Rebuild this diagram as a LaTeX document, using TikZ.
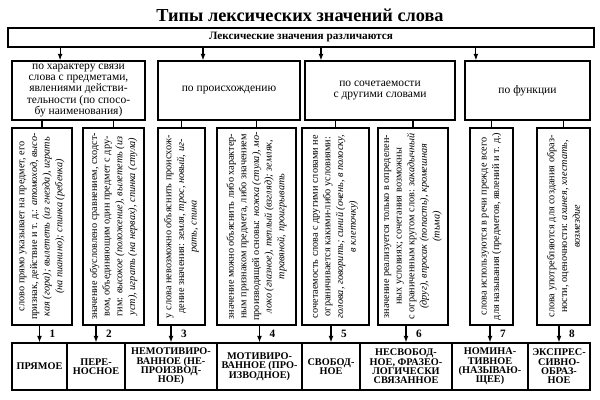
\documentclass[tikz,border=0pt]{standalone}
\usepackage{fontspec}
\setmainfont{Liberation Serif}
\usetikzlibrary{arrows.meta}

\begin{document}
\begin{tikzpicture}[
  every node/.style={font=\fontsize{7.5}{9}\selectfont},
  arrow/.style={-{Latex[length=1.6mm,width=1.2mm]}, line width=0.8pt},
  link/.style={line width=0.8pt},
  catbox/.style={draw, line width=0.9pt, minimum height=1.475cm, align=center,
    inner sep=1pt, font=\fontsize{8.2}{7.9}\selectfont},
  textbox/.style={draw, line width=0.9pt, rotate=90, minimum width=4.925cm,
    align=center, inner sep=1pt, font=\fontsize{7.3}{9}\selectfont},
  kindbox/.style={draw, line width=0.9pt, minimum height=1.175cm, align=center,
    inner sep=1pt, font=\fontsize{7.3}{6.7}\selectfont\bfseries},
  num/.style={font=\fontsize{8}{9}\selectfont\bfseries}
]
  \useasboundingbox (0,0) rectangle (15,10);

  \node[font=\fontsize{13}{15}\selectfont\bfseries] (title) at (7.5,9.625)
        {Типы лексических значений слова};
  \node[draw, line width=0.9pt, minimum width=14.65cm, minimum height=0.475cm,
        inner sep=1pt, font=\fontsize{8}{9}\selectfont\bfseries]
        (lex) at (7.525,9.0625) {Лексические значения различаются};

  \node[catbox, minimum width=3.325cm] (form)   at (1.9625,7.7375)
        {по характеру связи\\слова с предметами,\\явлениями действи-\\тельности (по спосо-\\бу наименования)};
  \node[catbox, minimum width=3.55cm]  (origin) at (5.725,7.7375) {по происхождению};
  \node[catbox, minimum width=3.75cm]  (combo)  at (9.5,7.7375) {по сочетаемости\\с другими словами};
  \node[catbox, minimum width=3.125cm] (func)   at (13.1875,7.7375) {по функции};

  \coordinate (tA) at ([xshift=-4.6mm]form.north);
  \coordinate (tB) at ([xshift=-6.5mm]origin.north);
  \coordinate (tC) at ([xshift=-14.75mm]combo.north);
  \coordinate (tD) at ([xshift=-12.9mm]func.north);
  \draw[arrow] (lex.south -| tA) -- (tA);
  \draw[arrow] (lex.south -| tB) -- (tB);
  \draw[arrow] (lex.south -| tC) -- (tC);
  \draw[arrow] (lex.south -| tD) -- (tD);

  \node[textbox, minimum height=1.5cm] (d1) at (1.05,4.3375)
        {слово прямо указывает на предмет, его\\признак, действие и т. д.: \textit{атомоход, высо-}\\\textit{кая (гора); вылететь (из гнезда), играть}\\\textit{(на пианино); спинка (ребенка)}};
  \node[textbox, minimum height=1.525cm] (d2) at (2.8375,4.3375)
        {значение обусловлено сравнением, сходст-\\вом, объединяющим один предмет с дру-\\гим: \textit{высокое (положение), вылететь (из}\\\textit{уст), играть (на нервах), спинка (стула)}};
  \node[textbox, minimum height=1.175cm] (d3) at (4.5375,4.3375)
        {у слова невозможно объяснить происхож-\\дение значения: \textit{земля, трос, новый, иг-}\\\textit{рать, спина}};
  \node[textbox, minimum height=1.975cm] (d4) at (6.4125,4.3375)
        {значение можно объяснить либо характер-\\ным признаком предмета, либо значением\\производящей основы: \textit{ножка (стула), мо-}\\\textit{локо (глазное), теплый (взгляд); земляк,}\\\textit{травяной, проигрывать}};
  \node[textbox, minimum height=1.675cm] (d5) at (8.3875,4.3375)
        {сочетаемость слова с другими словами не\\ограничивается какими-либо условиями:\\\textit{голова, говорить; синий (очень, в полоску,}\\\textit{в клеточку)}};
  \node[textbox, minimum height=1.75cm] (d6) at (10.325,4.3375)
        {значение реализуется только в определен-\\ных условиях; сочетания возможны\\с ограниченным кругом слов: \textit{закадычный}\\\textit{(друг), впросак (попасть), кромешная}\\\textit{(тьма)}};
  \node[textbox, minimum height=1.075cm] (d7) at (12.2875,4.3375)
        {слова используются в речи прежде всего\\для называния (предметов, явлений и т. д.)};
  \node[textbox, minimum height=1.325cm] (d8) at (14.0875,4.3375)
        {слова употребляются для создания образ-\\ности, оценочности: \textit{ахинея, хлестать,}\\\textit{возмездие}};

  \draw[link] (form.south -| d1.east) -- (d1.east);
  \draw[link] (form.south -| d2.east) -- (d2.east);
  \draw[link] (origin.south -| d3.east) -- (d3.east);
  \draw[link] (origin.south -| d4.east) -- (d4.east);
  \draw[link] (combo.south -| d5.east) -- (d5.east);
  \draw[link] (combo.south -| d6.east) -- (d6.east);
  \draw[link] (func.south -| d7.east) -- (d7.east);
  \draw[link] (func.south -| d8.east) -- (d8.east);

  \node[kindbox, minimum width=1.375cm] (k1) at (0.9875,0.8375) {ПРЯМОЕ};
  \node[kindbox, minimum width=1.45cm]  (k2) at (2.4,0.8375) {ПЕРЕ-\\НОСНОЕ};
  \node[kindbox, minimum width=2.3cm]   (k3) at (4.275,0.8375) {НЕМОТИВИРО-\\ВАННОЕ (НЕ-\\ПРОИЗВОД-\\НОЕ)};
  \node[kindbox, minimum width=2.125cm] (k4) at (6.4875,0.8375) {МОТИВИРО-\\ВАННОЕ (ПРО-\\ИЗВОДНОЕ)};
  \node[kindbox, minimum width=1.45cm]  (k5) at (8.275,0.8375) {СВОБОД-\\НОЕ};
  \node[kindbox, minimum width=2.3cm]   (k6) at (10.15,0.8375) {НЕСВОБОД-\\НОЕ, ФРАЗЕО-\\ЛОГИЧЕСКИ\\СВЯЗАННОЕ};
  \node[kindbox, minimum width=1.9cm]   (k7) at (12.25,0.8375) {НОМИНА-\\ТИВНОЕ\\(НАЗЫВАЮ-\\ЩЕЕ)};
  \node[kindbox, minimum width=1.55cm]  (k8) at (13.975,0.8375) {ЭКСПРЕС-\\СИВНО-\\ОБРАЗ-\\НОЕ};

  \draw[arrow] (d1.west -| k1.north) -- (k1.north) node[midway, right=1.2mm, num] {1};
  \draw[arrow] (d2.west -| k2.north) -- (k2.north) node[midway, right=1.2mm, num] {2};
  \draw[arrow] (d3.west -| k3.north) -- (k3.north) node[midway, right=1.2mm, num] {3};
  \draw[arrow] (d4.west -| k4.north) -- (k4.north) node[midway, right=1.2mm, num] {4};
  \draw[arrow] (d5.west -| k5.north) -- (k5.north) node[midway, right=1.2mm, num] {5};
  \draw[arrow] (d6.west -| k6.north) -- (k6.north) node[midway, right=1.2mm, num] {6};
  \draw[arrow] (d7.west -| k7.north) -- (k7.north) node[midway, right=1.2mm, num] {7};
  \draw[arrow] (d8.west -| k8.north) -- (k8.north) node[midway, right=1.2mm, num] {8};
\end{tikzpicture}
\end{document}
